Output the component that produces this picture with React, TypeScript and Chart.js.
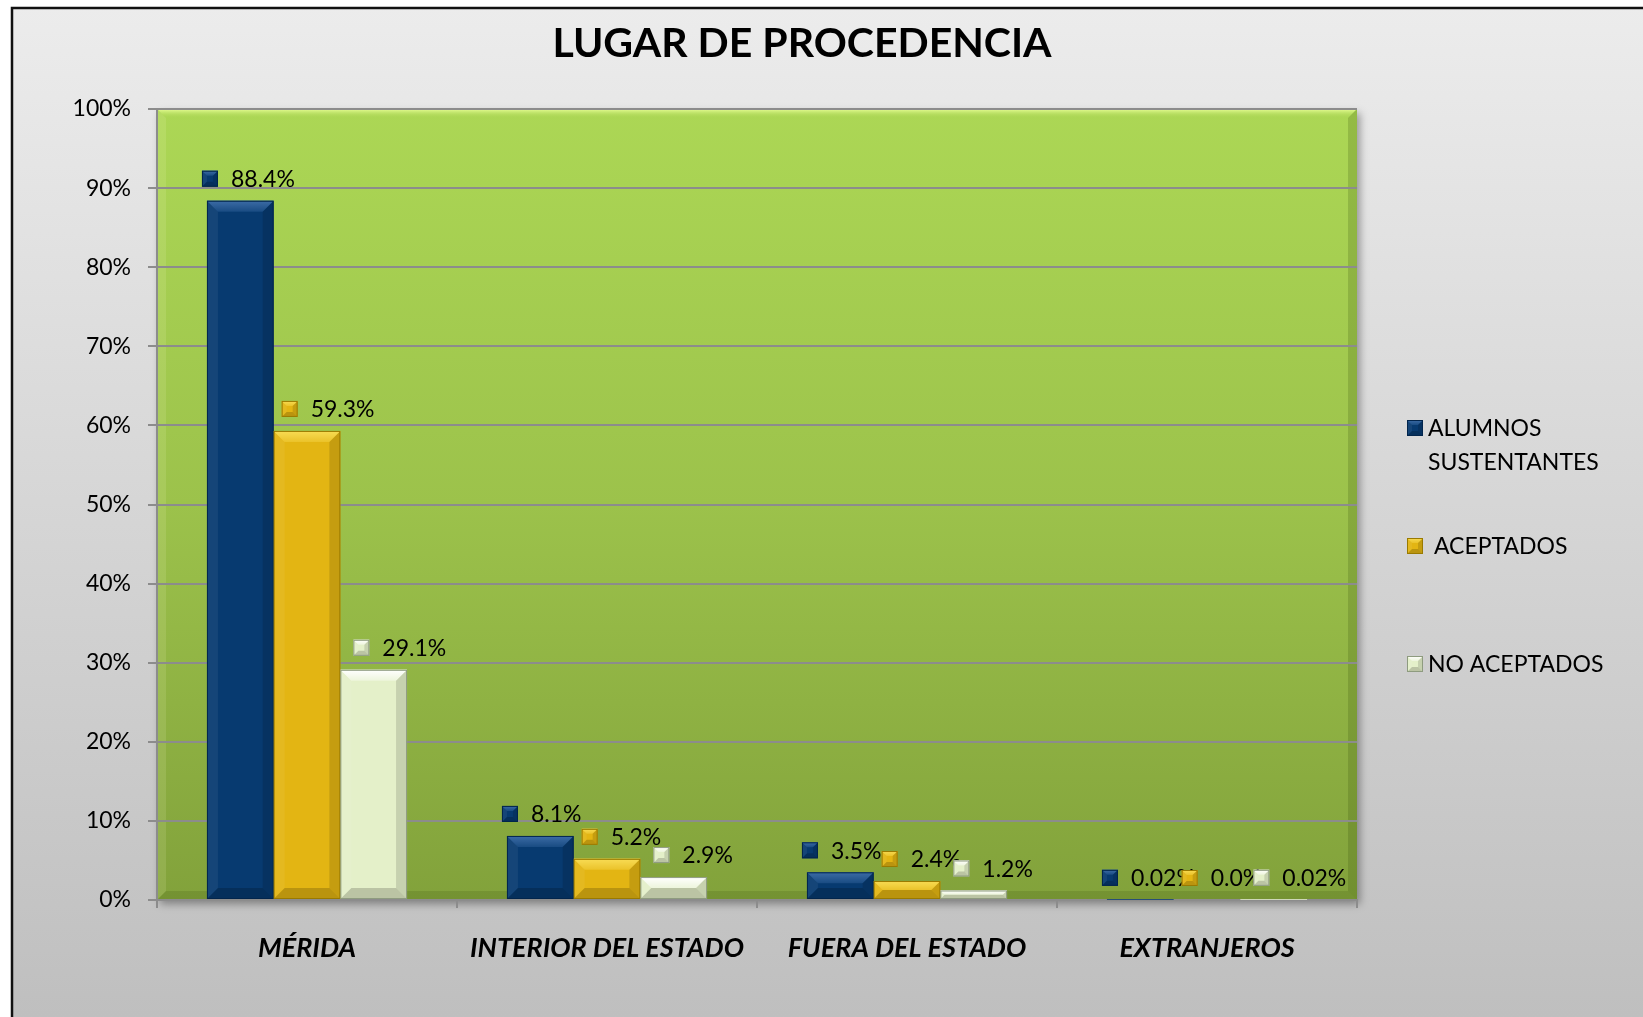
import React, { useEffect, useRef } from 'react';
import { Chart, registerables } from 'chart.js';

Chart.register(...registerables);

// ---- data ----
const categories = ['MÉRIDA', 'INTERIOR DEL ESTADO', 'FUERA DEL ESTADO', 'EXTRANJEROS'];
const alumnosSustentantes = [88.4, 8.1, 3.5, 0.02];
const aceptados = [59.3, 5.2, 2.4, 0.0];
const noAceptados = [29.1, 2.9, 1.2, 0.02];
const seriesNames = [['ALUMNOS', 'SUSTENTANTES'], [' ACEPTADOS'], ['NO ACEPTADOS']];
const yTickValues = [0, 10, 20, 30, 40, 50, 60, 70, 80, 90, 100];
const chartTitle = 'LUGAR DE PROCEDENCIA';

// ---- styles ----
const FONT = "Lato, 'Noto Sans', sans-serif";
const baseColors = ['#073a70', '#e3b513', '#e4f0c9'];
const lightColors = ['#3d6ca6', '#f8dc55', '#ffffff'];
const edgeColors = ['#02254c', '#9a7a00', '#8e9b7f'];
const labelShift = [-5, 8, 13];

const W = 1643;
const H = 1017;

function fmt(v: number): string {
  if (v > 0 && v < 0.1) return v.toFixed(2) + '%';
  return v.toFixed(1) + '%';
}

function bevelRect(
  ctx: CanvasRenderingContext2D,
  l: number, t: number, r: number, b: number,
  base: string, light: string, edge: string, bev: number, fillBase: boolean
) {
  const w = r - l;
  const h = b - t;
  if (h <= 0 || w <= 0) return;
  ctx.save();
  if (fillBase) {
    ctx.fillStyle = base;
    ctx.fillRect(l, t, w, h);
  }
  const k = Math.min(bev, h / 2, w / 2);
  if (k > 0.8) {
    const g = ctx.createLinearGradient(0, t, 0, t + k);
    g.addColorStop(0, light);
    g.addColorStop(1, base);
    ctx.fillStyle = g;
    ctx.beginPath();
    ctx.moveTo(l, t); ctx.lineTo(r, t); ctx.lineTo(r - k, t + k); ctx.lineTo(l + k, t + k);
    ctx.closePath(); ctx.fill();
    ctx.globalAlpha = 0.35;
    ctx.fillStyle = light;
    ctx.fill();
    ctx.globalAlpha = 1;
    ctx.fillStyle = 'rgba(255,255,255,0.06)';
    ctx.beginPath();
    ctx.moveTo(l, t); ctx.lineTo(l + k, t + k); ctx.lineTo(l + k, b - k); ctx.lineTo(l, b);
    ctx.closePath(); ctx.fill();
    ctx.fillStyle = 'rgba(0,0,0,0.13)';
    ctx.beginPath();
    ctx.moveTo(r, t); ctx.lineTo(r - k, t + k); ctx.lineTo(r - k, b - k); ctx.lineTo(r, b);
    ctx.closePath(); ctx.fill();
    ctx.fillStyle = 'rgba(0,0,0,0.18)';
    ctx.beginPath();
    ctx.moveTo(l, b); ctx.lineTo(l + k, b - k); ctx.lineTo(r - k, b - k); ctx.lineTo(r, b);
    ctx.closePath(); ctx.fill();
  }
  ctx.strokeStyle = edge;
  ctx.lineWidth = 1;
  ctx.strokeRect(l + 0.5, t + 0.5, Math.max(0, w - 1), Math.max(0, h - 1));
  ctx.restore();
}

const backgroundPlugin = {
  id: 'bgPlugin',
  beforeDraw(chart: any) {
    const ctx: CanvasRenderingContext2D = chart.ctx;
    const ca = chart.chartArea;
    ctx.save();
    ctx.fillStyle = '#ffffff';
    ctx.fillRect(0, 0, W, H);
    const g = ctx.createLinearGradient(0, 7, 0, H);
    g.addColorStop(0, '#ececec');
    g.addColorStop(1, '#bfbfbf');
    ctx.fillStyle = g;
    ctx.fillRect(11, 7, W, H);
    ctx.strokeStyle = '#111111';
    ctx.lineWidth = 2.5;
    ctx.beginPath();
    ctx.moveTo(12, H + 5);
    ctx.lineTo(12, 8);
    ctx.lineTo(W + 5, 8);
    ctx.stroke();

    ctx.fillStyle = '#000000';
    ctx.font = `bold 41px ${FONT}`;
    ctx.textAlign = 'center';
    ctx.textBaseline = 'middle';
    ctx.fillText(chartTitle, 802, 44);

    const pw = ca.right - ca.left;
    const ph = ca.bottom - ca.top;
    ctx.save();
    ctx.shadowColor = 'rgba(0,0,0,0.35)';
    ctx.shadowBlur = 8;
    ctx.shadowOffsetX = 3;
    ctx.shadowOffsetY = 4;
    const pg = ctx.createLinearGradient(0, ca.top, 0, ca.bottom);
    pg.addColorStop(0, '#acd755');
    pg.addColorStop(0.5, '#9cc24b');
    pg.addColorStop(1, '#82a23b');
    ctx.fillStyle = pg;
    ctx.fillRect(ca.left, ca.top, pw, ph);
    ctx.restore();
    const k = 9;
    const tg = ctx.createLinearGradient(0, ca.top, 0, ca.top + k);
    tg.addColorStop(0, '#e9ff97');
    tg.addColorStop(1, 'rgba(172,215,85,0)');
    ctx.fillStyle = tg;
    ctx.beginPath();
    ctx.moveTo(ca.left, ca.top); ctx.lineTo(ca.right, ca.top); ctx.lineTo(ca.right - k, ca.top + k); ctx.lineTo(ca.left + k, ca.top + k);
    ctx.closePath(); ctx.fill();
    ctx.fillStyle = 'rgba(40,60,0,0.18)';
    ctx.beginPath();
    ctx.moveTo(ca.right, ca.top); ctx.lineTo(ca.right - k, ca.top + k); ctx.lineTo(ca.right - k, ca.bottom - k); ctx.lineTo(ca.right, ca.bottom);
    ctx.closePath(); ctx.fill();
    ctx.fillStyle = 'rgba(40,60,0,0.15)';
    ctx.beginPath();
    ctx.moveTo(ca.left, ca.bottom); ctx.lineTo(ca.left + k, ca.bottom - k); ctx.lineTo(ca.right - k, ca.bottom - k); ctx.lineTo(ca.right, ca.bottom);
    ctx.closePath(); ctx.fill();
    ctx.fillStyle = 'rgba(255,255,210,0.12)';
    ctx.beginPath();
    ctx.moveTo(ca.left, ca.top); ctx.lineTo(ca.left + k, ca.top + k); ctx.lineTo(ca.left + k, ca.bottom - k); ctx.lineTo(ca.left, ca.bottom);
    ctx.closePath(); ctx.fill();
    ctx.restore();
  },
};

const barDecorPlugin = {
  id: 'barDecor',
  afterDatasetsDraw(chart: any) {
    const ctx: CanvasRenderingContext2D = chart.ctx;
    chart.data.datasets.forEach((ds: any, di: number) => {
      const meta = chart.getDatasetMeta(di);
      meta.data.forEach((el: any) => {
        const { x, y, base, width } = el.getProps(['x', 'y', 'base', 'width'], true);
        bevelRect(ctx, x - width / 2, y, x + width / 2, base, baseColors[di], lightColors[di], edgeColors[di], 11, false);
      });
    });
    ctx.save();
    ctx.font = `23px ${FONT}`;
    ctx.textBaseline = 'middle';
    ctx.textAlign = 'left';
    const n = chart.data.labels.length;
    for (let i = 0; i < n; i++) {
      chart.data.datasets.forEach((ds: any, di: number) => {
        const el = chart.getDatasetMeta(di).data[i];
        const { x, y, width } = el.getProps(['x', 'y', 'width'], true);
        const txt = fmt(ds.data[i]);
        const key = 16;
        const gap = 13;
        const cy = y - 22;
        const left = x - width / 2 + labelShift[di];
        bevelRect(ctx, left, cy - key / 2, left + key, cy + key / 2, baseColors[di], lightColors[di], edgeColors[di], 5, true);
        ctx.fillStyle = '#000000';
        ctx.fillText(txt, left + key + gap, cy + 1);
      });
    }
    ctx.restore();
  },
};

const legendPlugin = {
  id: 'customLegend',
  afterDraw(chart: any) {
    const ctx: CanvasRenderingContext2D = chart.ctx;
    ctx.save();
    ctx.font = `23px ${FONT}`;
    ctx.textBaseline = 'middle';
    ctx.textAlign = 'left';
    const keyX = 1407;
    const textX = 1428;
    const firstY = 428;
    const lineH = 34;
    const itemGap = 118;
    let y = firstY;
    seriesNames.forEach((lines, si) => {
      bevelRect(ctx, keyX, y - 8, keyX + 16, y + 8, baseColors[si], lightColors[si], edgeColors[si], 5, true);
      ctx.fillStyle = '#000000';
      lines.forEach((ln, li) => {
        ctx.fillText(ln, textX, y + li * lineH + 1);
      });
      y += itemGap;
    });
    ctx.restore();
  },
};

export default function App() {
  const canvasRef = useRef<HTMLCanvasElement | null>(null);

  useEffect(() => {
    if (!canvasRef.current) return;
    Chart.defaults.font.family = FONT;
    const chart = new Chart(canvasRef.current, {
      type: 'bar',
      data: {
        labels: categories,
        datasets: [
          { label: seriesNames[0].join(' '), data: alumnosSustentantes, backgroundColor: baseColors[0], borderWidth: 0 },
          { label: seriesNames[1].join(' ').trim(), data: aceptados, backgroundColor: baseColors[1], borderWidth: 0 },
          { label: seriesNames[2].join(' '), data: noAceptados, backgroundColor: baseColors[2], borderWidth: 0 },
        ],
      },
      options: {
        responsive: false,
        animation: false,
        layout: { padding: { top: 109, right: 286, left: 0, bottom: 0 } },
        datasets: { bar: { categoryPercentage: 0.667, barPercentage: 1.0 } },
        plugins: {
          legend: { display: false },
          title: { display: false },
          tooltip: { enabled: false },
        },
        scales: {
          x: {
            grid: { drawOnChartArea: false, drawTicks: true, tickLength: 8, color: '#8c8c8c', lineWidth: 2, offset: true },
            border: { display: true, color: '#8c8c8c', width: 2 },
            ticks: { color: '#000000', font: { size: 27, weight: 'bold', style: 'italic', family: FONT }, padding: 24, maxRotation: 0, autoSkip: false },
            afterFit: (scale: any) => { scale.height = H - 900; },
          },
          y: {
            min: 0,
            max: 100,
            afterBuildTicks: (scale: any) => { scale.ticks = yTickValues.map((v) => ({ value: v })); },
            grid: { color: '#8c8c8c', lineWidth: 2, tickLength: 9, drawTicks: true },
            border: { display: true, color: '#8c8c8c', width: 2 },
            ticks: { color: '#000000', font: { size: 23, family: FONT }, padding: 17, callback: (v: any) => v + '%' },
            afterFit: (scale: any) => { scale.width = 157; },
          },
        },
      },
      plugins: [backgroundPlugin, barDecorPlugin, legendPlugin],
    } as any);
    return () => chart.destroy();
  }, []);

  return (
    <div style={{ position: 'fixed', left: 0, top: 0, width: W, height: H, overflow: 'hidden' }}>
      <canvas ref={canvasRef} width={W} height={H} style={{ display: 'block' }} />
    </div>
  );
}
